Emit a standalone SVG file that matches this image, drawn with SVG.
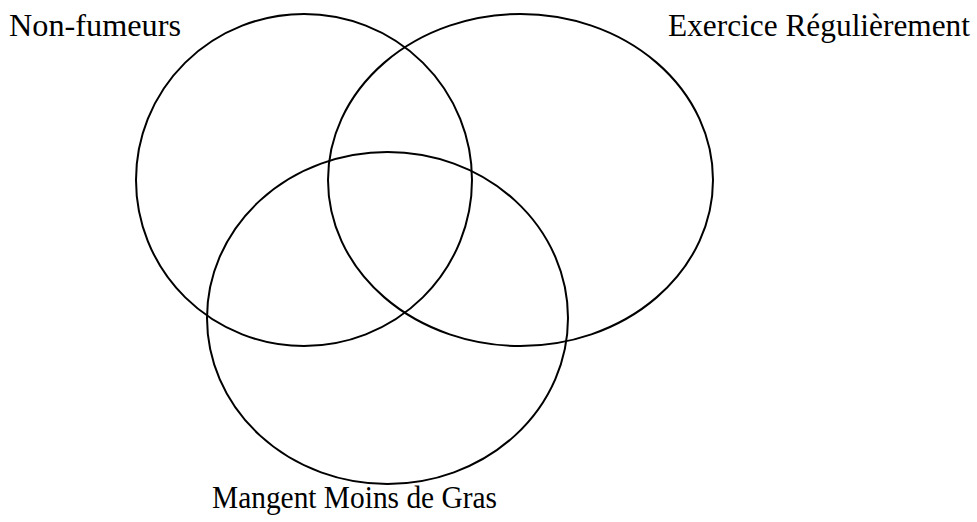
<svg xmlns="http://www.w3.org/2000/svg" width="977" height="522" viewBox="0 0 977 522">
<style>
.set{fill:none;stroke:#000;stroke-width:2}
.lbl{font-family:"Liberation Serif","Times New Roman",serif;font-size:32px;fill:#000}
</style>
<rect width="977" height="522" fill="#fff"/>
<g id="non-fumeurs">
<ellipse class="set" cx="304" cy="180" rx="168" ry="166"/>
<text class="lbl" x="9" y="36" textLength="172" lengthAdjust="spacingAndGlyphs">Non-fumeurs</text>
</g>
<g id="exercice">
<ellipse class="set" cx="520.5" cy="180" rx="192.5" ry="166"/>
<text class="lbl" x="668" y="36" textLength="302" lengthAdjust="spacingAndGlyphs">Exercice Régulièrement</text>
</g>
<g id="mangent">
<ellipse class="set" cx="387.5" cy="318" rx="180.5" ry="166"/>
<text class="lbl" x="212" y="508" textLength="285" lengthAdjust="spacingAndGlyphs">Mangent Moins de Gras</text>
</g>
<g id="connectors"></g>
</svg>
